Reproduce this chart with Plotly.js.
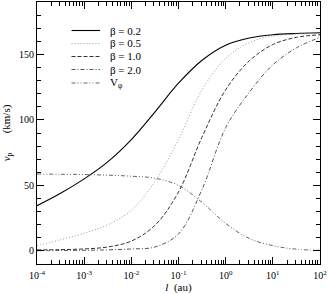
<!DOCTYPE html>
<html>
<head>
<meta charset="utf-8">
<script src="https://cdn.plot.ly/plotly-3.0.1.min.js"></script>
<style>html,body{margin:0;padding:0;background:#fff;}#chart{width:328px;height:294px;}</style>
</head>
<body>
<div id="chart"></div>
<script>
// Distance l (au), half-decade samples
const lValues = [0.0001, 0.000316, 0.001, 0.00316, 0.01, 0.0316, 0.1, 0.316, 1, 3.16, 10, 31.6, 100];
// v_p (km/s) for each beta, and V_phi
const beta02 = [34.5, 44, 55, 68, 85, 106, 128, 145.5, 157, 162.5, 165, 166, 166.5];
const beta05 = [4, 8.5, 13.5, 20, 31, 53, 85, 123, 147, 159, 164, 165.5, 166];
const beta10 = [0.8, 1, 1.5, 3, 7.5, 19.5, 45, 87, 123, 145, 157.5, 163, 165];
const beta20 = [0.2, 0.3, 0.5, 0.8, 1.5, 3, 13, 47, 94, 121, 142, 155, 163];
const vPhi   = [58.7, 58.5, 58.3, 57.8, 57, 55.5, 50, 37, 21, 9.5, 4, 1.3, 0.4];

const seriesNames = ['β = 0.2', 'β = 0.5', 'β = 1.0', 'β = 2.0', 'V<sub>φ</sub>'];
const xTickVals = [1e-4, 1e-3, 1e-2, 1e-1, 1, 10, 100];
const xTickText = ['10<sup>-4</sup>', '10<sup>-3</sup>', '10<sup>-2</sup>', '10<sup>-1</sup>', '10<sup>0</sup>', '10<sup>1</sup>', '10<sup>2</sup>'];
const yTickVals = [0, 50, 100, 150];

const SERIF = '"Liberation Serif", "Times New Roman", serif';
const styles = [
  {color: '#000000', dash: 'solid', width: 1.1},
  {color: '#9a9a9a', dash: '1px,2px', width: 1},
  {color: '#333333', dash: '4px,2px', width: 1},
  {color: '#555555', dash: '4px,2px,1px,2px', width: 1},
  {color: '#666666', dash: '4px,2px,1px,2px,1px,2px', width: 1}
];
const allSeries = [beta02, beta05, beta10, beta20, vPhi];

const traces = allSeries.map((ys, i) => ({
  x: lValues, y: ys, type: 'scatter', mode: 'lines', name: seriesNames[i],
  line: {color: styles[i].color, dash: styles[i].dash, width: styles[i].width, shape: 'spline', smoothing: 1},
  showlegend: false, hoverinfo: 'skip'
}));

// Manual legend (compact spacing like the reference)
const W = 328, H = 294, M = {l: 37, r: 8, t: 2, b: 30};
const pw = W - M.l - M.r, ph = H - M.t - M.b;
const px = x => (x - M.l) / pw;
const py = y => (H - M.b - y) / ph;
const legRows = [30.5, 43.5, 56.5, 69.5, 83];
const shapes = [], annotations = [];
seriesNames.forEach((name, i) => {
  shapes.push({type: 'line', xref: 'paper', yref: 'paper', x0: px(71.5), x1: px(100), y0: py(legRows[i]), y1: py(legRows[i]),
    line: {color: styles[i].color, dash: styles[i].dash, width: styles[i].width}});
  annotations.push({xref: 'paper', yref: 'paper', x: px(108), y: py(legRows[i]), xanchor: 'left', yanchor: 'middle',
    text: name, showarrow: false, font: {family: SERIF, size: 11, color: '#000'}});
});

const axisCommon = {
  showline: true, linecolor: '#000', linewidth: 1, mirror: 'allticks',
  ticks: 'inside', ticklen: 7, tickwidth: 1, tickcolor: '#000',
  showgrid: false, zeroline: false,
  tickfont: {family: SERIF, size: 10, color: '#000'}
};

const layout = {
  width: W, height: H, margin: M,
  paper_bgcolor: '#fff', plot_bgcolor: '#fff',
  font: {family: SERIF, color: '#000'},
  showlegend: false,
  xaxis: Object.assign({}, axisCommon, {
    type: 'log', range: [-4, 2], tickmode: 'array', tickvals: xTickVals, ticktext: xTickText,
    ticklabelstandoff: 2,
    minor: {ticks: 'inside', ticklen: 4, tickwidth: 1, tickcolor: '#000', dtick: 'D1', showgrid: false},
    title: {text: '<i>l</i>  (au)', font: {family: SERIF, size: 11, color: '#000'}, standoff: 0}
  }),
  yaxis: Object.assign({}, axisCommon, {
    range: [-10, 190], tickmode: 'array', tickvals: yTickVals,
    minor: {ticks: 'inside', ticklen: 4, tickwidth: 1, tickcolor: '#000', dtick: 10, tick0: 0, showgrid: false},
    title: {text: '<i>v</i><sub>p</sub>       (km/s)', font: {family: SERIF, size: 11, color: '#000'}, standoff: 6}
  }),
  shapes: shapes,
  annotations: annotations
};

Plotly.newPlot('chart', traces, layout, {displayModeBar: false});
</script>
</body>
</html>
